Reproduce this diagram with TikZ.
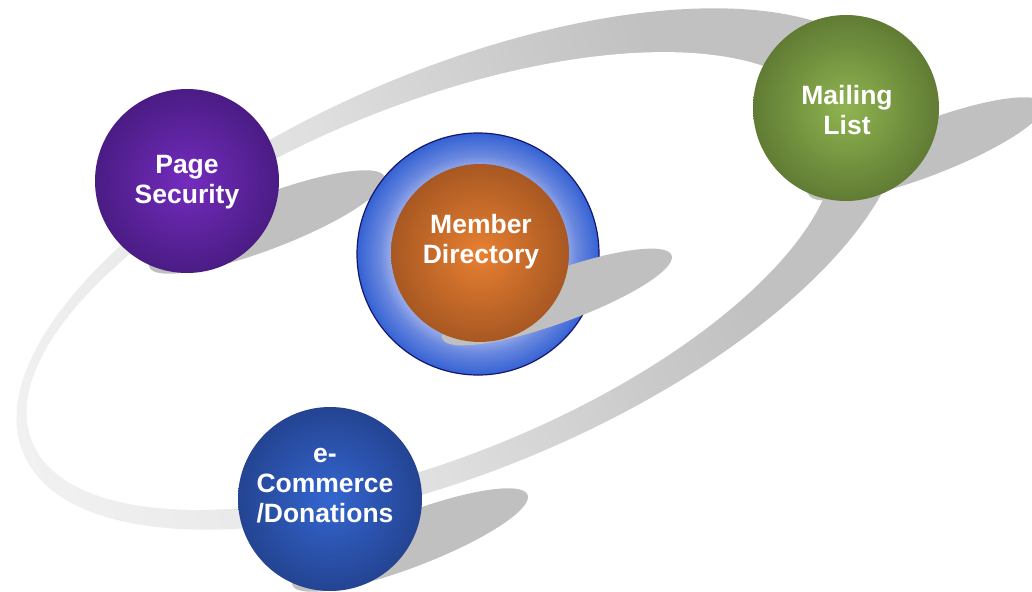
\documentclass[tikz,border=0pt]{standalone}
\usepackage{fontspec}
\setmainfont{Liberation Sans}
\definecolor{ringA}{RGB}{241,241,241}
\definecolor{ringB}{RGB}{236,236,236}
\definecolor{ringC}{RGB}{223,223,223}
\definecolor{ringD}{RGB}{202,202,202}
\definecolor{ringE}{RGB}{193,193,193}
\definecolor{shadowc}{RGB}{192,192,192}
\definecolor{pIn}{RGB}{116,44,190}
\definecolor{pOut}{RGB}{74,28,132}
\definecolor{gIn}{RGB}{144,180,80}
\definecolor{gOut}{RGB}{96,124,52}
\definecolor{eIn}{RGB}{52,102,208}
\definecolor{eOut}{RGB}{36,68,146}
\definecolor{oIn}{RGB}{232,128,50}
\definecolor{oOut}{RGB}{168,88,34}
\definecolor{rIn}{RGB}{150,170,234}
\definecolor{rMid}{RGB}{105,135,222}
\definecolor{rOut}{RGB}{52,98,212}
\definecolor{navy}{RGB}{22,22,110}
\pgfdeclarehorizontalshading{ringshade}{100bp}{color(0bp)=(ringA); color(22bp)=(ringA); color(30bp)=(ringB); color(45bp)=(ringC); color(58bp)=(ringD); color(65bp)=(ringE); color(100bp)=(ringE)}
\pgfdeclareradialshading{bluering}{\pgfpoint{0bp}{0bp}}{color(0bp)=(rIn); color(18bp)=(rIn); color(20.5bp)=(rMid); color(25bp)=(rOut); color(50bp)=(rOut)}
\tikzset{
  ball/.style={circle, inner sep=0pt, outer sep=0pt},
  shadowfill/.style={fill=shadowc},
  lbl/.style={anchor=base, align=center, text=white, inner sep=0pt,
    font=\fontsize{26.5}{30}\selectfont\bfseries},
}
\begin{document}
\begin{tikzpicture}[x=1pt,y=-1pt]
\useasboundingbox (0,0) rectangle (1032,591);
\clip (0,0) rectangle (1032,591);
% orbit ring: outer edge shaded, inner edge cut out in white
\shade[shading=ringshade, shading angle=20, rotate around={22.9:(460,269)}]
  (460,269) ellipse (474 and 200);
\fill[white, rotate around={21.9:(431,281)}]
  (431,281) ellipse (430 and 176);
% shadows
\fill[shadowfill, rotate around={21:(267,222)}] (267,222) ellipse (126 and 27);
\fill[shadowfill, rotate around={21:(926,149)}] (926,149) ellipse (126 and 27);
\fill[shadowfill, rotate around={21:(410,540)}] (410,540) ellipse (126 and 27);
% balls
\node[ball, minimum size=184pt, inner color=pIn, outer color=pOut] (page) at (187,181) {};
\node[ball, minimum size=186pt, inner color=gIn, outer color=gOut] (mail) at (846,108) {};
\node[ball, minimum size=184pt, inner color=eIn, outer color=eOut] (ecom) at (330,499) {};
\node[ball, minimum size=242pt, shading=bluering, draw=navy, line width=1.2pt] (ring) at (478,254) {};
\fill[shadowfill, rotate around={20:(557,297)}] (557,297) ellipse (122 and 26);
\node[ball, minimum size=178pt, inner color=oIn, outer color=oOut] (member) at (480,253) {};
% labels (anchor at baseline of last line)
\node[lbl] (pageT) at (187,203) {Page\\Security};
\node[lbl] (memberT) at (481,263) {Member\\Directory};
\node[lbl] (mailT) at (847,135) {Mailing\\List};
\node[lbl] (ecomT) at (325,522) {e-\\Commerce\\/Donations};
\end{tikzpicture}
\end{document}
